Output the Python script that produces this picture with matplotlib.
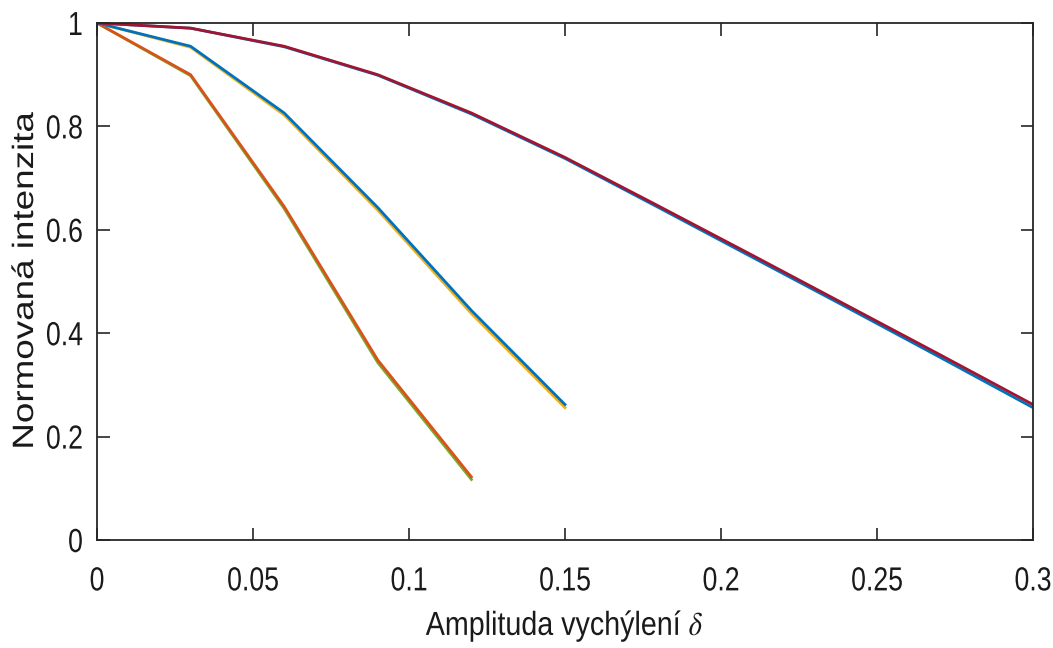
import numpy as np
import matplotlib.pyplot as plt
import matplotlib.patheffects as pe
from matplotlib.transforms import Affine2D

x1 = [0, 0.03, 0.06, 0.09, 0.12]
g1_top = [1.0, 0.90, 0.645, 0.348, 0.122]
g1_under = [1.0, 0.898, 0.641, 0.343, 0.117]

x2 = [0, 0.03, 0.06, 0.09, 0.12, 0.15]
g2_top = [1.0, 0.955, 0.826, 0.643, 0.444, 0.262]
g2_under = [1.0, 0.953, 0.822, 0.638, 0.438, 0.256]

x3 = [0, 0.03, 0.06, 0.09, 0.12, 0.15, 0.18, 0.21, 0.24, 0.27, 0.30]
g3_top = [1.0, 0.99, 0.955, 0.90, 0.826, 0.74, 0.646, 0.551, 0.455, 0.359, 0.262]
g3_under = [1.0, 0.99, 0.954, 0.899, 0.824, 0.738, 0.643, 0.547, 0.451, 0.354, 0.256]

xticks = [0, 0.05, 0.1, 0.15, 0.2, 0.25, 0.3]
xticklabels = ["0", "0.05", "0.1", "0.15", "0.2", "0.25", "0.3"]
yticks = [0, 0.2, 0.4, 0.6, 0.8, 1]
yticklabels = ["0", "0.2", "0.4", "0.6", "0.8", "1"]

plt.rcParams["font.family"] = ["Liberation Sans", "DejaVu Sans"]
plt.rcParams["mathtext.fontset"] = "stix"


class Squeeze(pe.AbstractPathEffect):
    """Squeeze text glyphs in local x (reading direction) or y (height)."""

    def __init__(self, s=0.8, axis="x", anchor="center"):
        super().__init__()
        self.s = s
        self.axis = axis
        self.anchor = anchor

    def draw_path(self, renderer, gc, tpath, affine, rgbFace=None):
        if self.axis == "x":
            ext = tpath.get_extents()
            c = ext.x1 if self.anchor == "right" else (ext.x0 + ext.x1) / 2
            sq = Affine2D().translate(-c, 0).scale(self.s, 1).translate(c, 0)
        else:
            sq = Affine2D().scale(1, self.s)  # around the baseline
        renderer.draw_path(gc, tpath, sq + affine, rgbFace)


blue = (0, 0.447, 0.741)
orange = (0.85, 0.325, 0.098)
yellow = (0.929, 0.694, 0.125)
green = (0.466, 0.674, 0.188)
maroon = (0.635, 0.078, 0.184)

fig = plt.figure(figsize=(10.53, 6.48), dpi=100)
ax = fig.add_axes([97 / 1053, 1 - 540 / 648, 936 / 1053, 517 / 648])

ax.plot(x1, g1_under, color=green, lw=2)
ax.plot(x1, g1_top, color=orange, lw=2)
ax.plot(x2, g2_under, color=yellow, lw=2)
ax.plot(x2, g2_top, color=blue, lw=2)
ax.plot(x3, g3_under, color=blue, lw=2)
ax.plot(x3, g3_top, color=maroon, lw=2)

ax.set_xlim(0, 0.3)
ax.set_ylim(0, 1)
ax.set_xticks(xticks, xticklabels)
ax.set_yticks(yticks, yticklabels)
ax.tick_params(direction="in", length=9, width=1.2, colors="0.15",
               labelsize=24, labelcolor="0.1", top=True, right=True)
ax.tick_params(axis="x", pad=19)
ax.tick_params(axis="y", pad=10)
for s in ax.spines.values():
    s.set_color("0.15")
    s.set_linewidth(1.3)

ax.set_xlabel(r"Amplituda vychýlení $\delta$", fontsize=24, color="0.1")
ax.set_ylabel("Normovaná intenzita", fontsize=26.5, color="0.1")
ax.xaxis.set_label_coords(0.5, -0.1335)
ax.yaxis.set_label_coords(-0.0598, 0.5)

for t in ax.get_xticklabels():
    t.set_path_effects([Squeeze(0.8, "x", "center")])
for t in ax.get_yticklabels():
    t.set_path_effects([Squeeze(0.8, "x", "right")])
ax.xaxis.label.set_path_effects([Squeeze(0.86, "x", "center")])
ax.yaxis.label.set_path_effects([Squeeze(0.8, "y")])

plt.savefig("out.png", dpi=100)
